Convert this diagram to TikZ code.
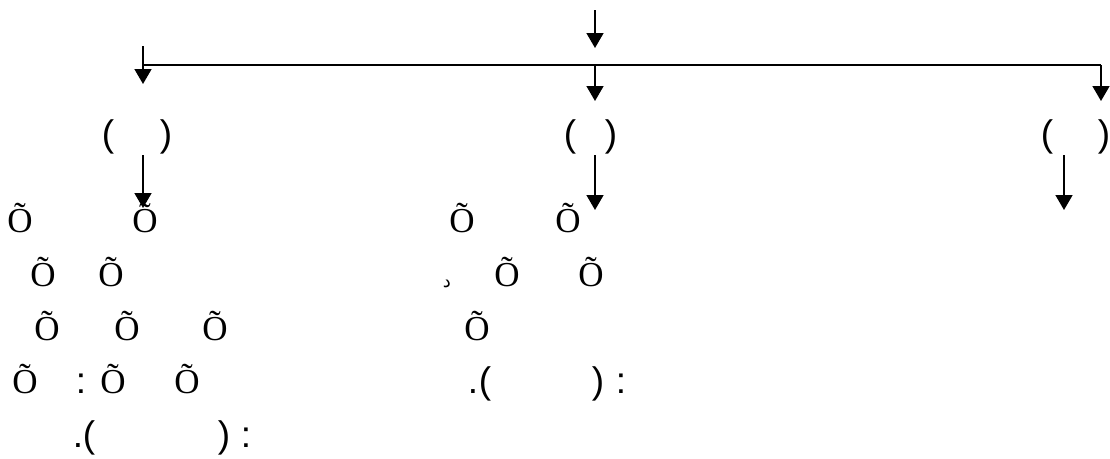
\documentclass[tikz,border=0pt]{standalone}
\usepackage{fontspec}
\setmainfont{Liberation Serif}
\newfontfamily\lsans{Liberation Sans}
\newfontfamily\arabicfont[Script=Arabic]{DejaVu Sans}
\usetikzlibrary{arrows.meta}
\TeXXeTstate=1
\tikzset{
  conn/.style={line width=1.6pt,-{Triangle[length=15pt,width=17pt]}},
  plain/.style={line width=1.6pt},
  ot/.style={inner sep=0pt,anchor=base,font=\fontsize{35}{42}\selectfont},
  pt/.style={inner sep=0pt,anchor=base,font=\lsans\fontsize{37}{44}\selectfont},
}
\begin{document}
\begin{tikzpicture}[x=1pt,y=-1pt]
\useasboundingbox (0,0) rectangle (1110,458);
% connector coordinates
\coordinate (t0) at (595,10);
\coordinate (t1) at (595,48);
\coordinate (l0) at (143,46);
\coordinate (l1) at (143,84);
\coordinate (hl) at (143,65);
\coordinate (hm) at (595,65);
\coordinate (hr) at (1101,65);
\coordinate (m1) at (595,101);
\coordinate (r1) at (1101,101);
\coordinate (la) at (143,155);
\coordinate (lb) at (143,208);
\coordinate (ma) at (595,155);
\coordinate (mb) at (595,210);
\coordinate (ra) at (1064,155);
\coordinate (rb) at (1064,210);
\draw[conn] (t0) -- (t1);
\draw[conn] (l0) -- (l1);
\draw[plain] (hl) -- (hr);
\draw[conn] (hm) -- (m1);
\draw[conn] (hr) -- (r1);
\draw[conn] (la) -- (lb);
\draw[conn] (ma) -- (mb);
\draw[conn] (ra) -- (rb);
% top parentheses
\node[pt] (p1a) at (108,146) {(};
\node[pt] (p1b) at (166,146) {)};
\node[pt] (p2a) at (570,146) {(};
\node[pt] (p2b) at (611,146) {)};
\node[pt] (p3a) at (1047,146) {(};
\node[pt] (p3b) at (1104,146) {)};
% row 1
\node[ot] (a11) at (20,232) {Õ};
\node[ot] (a12) at (145,232) {Õ};
\node[ot] (b11) at (462,232) {Õ};
\node[ot] (b12) at (568,232) {Õ};
% row 2
\node[ot] (a21) at (43,286) {Õ};
\node[ot] (a22) at (111,286) {Õ};
\node[inner sep=0pt,anchor=base,font=\arabicfont\fontsize{18}{20}\selectfont] (b20) at (447,287) {\beginR د\endR};
\node[ot] (b21) at (507,286) {Õ};
\node[ot] (b22) at (591,286) {Õ};
% row 3
\node[ot] (a31) at (47,340) {Õ};
\node[ot] (a32) at (127,340) {Õ};
\node[ot] (a33) at (215,340) {Õ};
\node[ot] (b31) at (477,340) {Õ};
% row 4
\node[ot] (a41) at (25,393) {Õ};
\node[pt] (a4c) at (81,393) {:};
\node[ot] (a42) at (113,393) {Õ};
\node[ot] (a43) at (187,393) {Õ};
\node[pt] (b4d) at (473,393) {.};
\node[pt] (b4a) at (485,393) {(};
\node[pt] (b4b) at (598,393) {)};
\node[pt] (b4c) at (621,393) {:};
% row 5
\node[pt] (a5d) at (78,447) {.};
\node[pt] (a5a) at (89,447) {(};
\node[pt] (a5b) at (224,447) {)};
\node[pt] (a5c) at (246,447) {:};
\end{tikzpicture}
\end{document}
